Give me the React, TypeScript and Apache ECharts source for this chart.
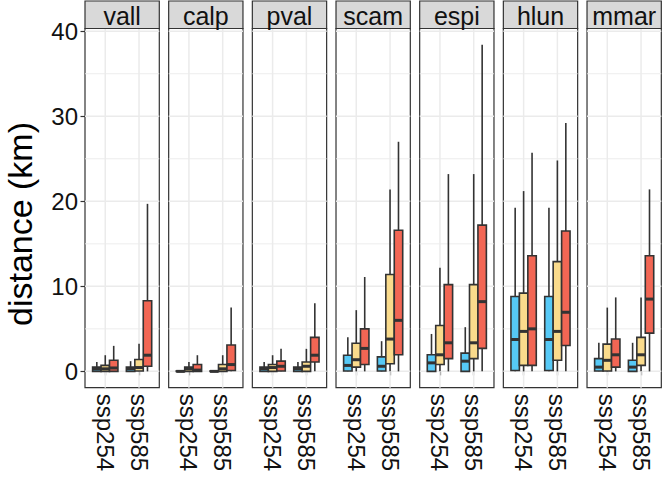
import { useEffect, useRef } from "react";
import * as echarts from "echarts";

// Facets and x categories
const species = ["vall", "calp", "pval", "scam", "espi", "hlun", "mmar"];
const scenarios = ["ssp254", "ssp585"];

// Five-number summaries [min, q1, median, q3, max] in km.
// Order per species: ssp254 (group 1, 2, 3), then ssp585 (group 1, 2, 3).
const vall = [
  [0, 0, 0.28, 0.5, 1.1], [0, 0, 0.3, 0.7, 1.9], [0, 0, 0.4, 1.3, 3.0],
  [0, 0, 0.3, 0.5, 1.2], [0, 0.05, 0.45, 1.4, 3.25], [0, 0.6, 1.9, 8.3, 19.7],
];
const calp = [
  [0, 0, 0, 0.05, 0.1], [0, 0, 0.3, 0.5, 1.1], [0, 0, 0.15, 0.8, 1.9],
  [0, 0, 0, 0.05, 0.1], [0, 0, 0.3, 0.8, 1.9], [0, 0.1, 0.8, 3.1, 7.5],
];
const pval = [
  [0, 0, 0.3, 0.5, 1.1], [0, 0, 0.45, 0.8, 1.9], [0, 0.05, 0.6, 1.2, 2.65],
  [0, 0, 0.3, 0.5, 1.1], [0, 0, 0.6, 1.1, 2.65], [0, 1.1, 1.9, 4.0, 8.0],
];
const scam = [
  [0, 0.05, 0.7, 1.9, 4.0], [0, 0.5, 1.37, 3.3, 7.2], [0, 0.8, 2.7, 5.0, 11.1],
  [0, 0.05, 0.6, 1.7, 3.55], [0, 0.9, 3.8, 11.4, 21.4], [0, 1.95, 6.0, 16.6, 27.0],
];
const espi = [
  [0, 0, 1.0, 1.95, 4.4], [0, 0.8, 1.95, 5.4, 12.2], [0, 1.5, 3.36, 10.2, 23.2],
  [0, 0, 1.2, 2.15, 5.2], [0, 1.5, 3.36, 10.2, 23.2], [0, 2.7, 8.2, 17.2, 38.4],
];
const hlun = [
  [0, 0.1, 3.75, 8.8, 19.25], [0, 0.7, 4.7, 9.2, 21.2], [0, 0.7, 5.0, 13.6, 25.7],
  [0, 0.1, 3.75, 8.8, 19.25], [0, 1.3, 4.7, 12.9, 24.8], [0, 3.05, 6.95, 16.5, 29.2],
];
const mmar = [
  [0, 0.05, 0.5, 1.5, 3.36], [0, 0.05, 1.3, 3.2, 7.5], [0, 0.5, 1.95, 3.8, 8.7],
  [0, 0, 0.5, 1.3, 3.36], [0, 0.7, 1.95, 4.0, 8.7], [0, 4.5, 8.5, 13.6, 21.4],
];
const summaries = [vall, calp, pval, scam, espi, hlun, mmar];

// Axis breaks
const yMajor = [0, 10, 20, 30, 40];
const yMinor = [5, 15, 25, 35];
const xBreaks = [1, 2];

// Styling
const groupFills = ["#56C9F6", "#FADB8C", "#F26654"];
const ink = "#333333";
const font = "'Liberation Sans', Arial, Helvetica, sans-serif";

// Panel layout (px)
const panelLeft = 85;
const panelStep = 83.67;
const panelWidth = 74.3;
const panelTop = 28.5;
const panelHeight = 359.2;
const stripTop = 1;

const Y_MIN = -1.92;
const Y_MAX = 40.32;
const X_MIN = 0.4;
const X_MAX = 2.6;
const DODGE = 0.25;
const BOX_W = 0.25;

export default function App() {
  const ref = useRef<HTMLDivElement>(null);

  useEffect(() => {
    document.body.style.margin = "0";
    if (!ref.current) return;
    const chart = echarts.init(ref.current, undefined, { renderer: "svg" });

    const grids: any[] = [];
    const xAxes: any[] = [];
    const yAxes: any[] = [];
    const series: any[] = [];
    const graphics: any[] = [];

    species.forEach((name, i) => {
      const left = panelLeft + i * panelStep;
      grids.push({
        left,
        top: panelTop,
        width: panelWidth,
        height: panelHeight,
        show: true,
        backgroundColor: "#ffffff",
        borderColor: ink,
        borderWidth: 1.2,
      });
      xAxes.push({
        gridIndex: i,
        type: "value",
        min: X_MIN,
        max: X_MAX,
        axisLine: { show: false },
        splitLine: { show: false },
        axisTick: {
          show: true,
          customValues: xBreaks,
          length: 4,
          lineStyle: { color: ink, width: 1.2 },
        },
        axisLabel: {
          customValues: xBreaks,
          formatter: (v: number) => scenarios[Math.round(v) - 1] ?? "",
          rotate: -90,
          fontSize: 24,
          fontFamily: font,
          color: "#111111",
          margin: 6,
        },
      });
      yAxes.push({
        gridIndex: i,
        type: "value",
        min: Y_MIN,
        max: Y_MAX,
        show: i === 0,
        axisLine: { show: false },
        splitLine: { show: false },
        axisTick: {
          show: true,
          customValues: yMajor,
          length: 4.5,
          lineStyle: { color: ink, width: 1.2 },
        },
        axisLabel: {
          customValues: yMajor,
          fontSize: 24,
          fontFamily: font,
          color: "#111111",
          margin: 7,
        },
      });

      // background grid lines: [kind, value]; 0 major-h, 1 minor-h, 2 vertical
      const gridData = [
        ...yMajor.map((v) => [0, v]),
        ...yMinor.map((v) => [1, v]),
        ...xBreaks.map((v) => [2, v]),
      ];
      series.push({
        type: "custom",
        xAxisIndex: i,
        yAxisIndex: i,
        silent: true,
        z: 1,
        data: gridData,
        encode: { x: 1, y: 1 },
        renderItem: (params: any, api: any) => {
          const kind = api.value(0);
          const v = api.value(1);
          const cs = params.coordSys;
          if (kind === 2) {
            const x = api.coord([v, 0])[0];
            return {
              type: "line",
              shape: { x1: x, y1: cs.y, x2: x, y2: cs.y + cs.height },
              style: { stroke: "#EBEBEB", lineWidth: 1.5 },
            };
          }
          const y = api.coord([1, v])[1];
          return {
            type: "line",
            shape: { x1: cs.x, y1: y, x2: cs.x + cs.width, y2: y },
            style: { stroke: "#EBEBEB", lineWidth: kind === 0 ? 1.5 : 0.9 },
          };
        },
      });

      // boxes: [category, group, min, q1, median, q3, max]
      const boxData = summaries[i].map((s, k) => [
        Math.floor(k / 3) + 1,
        k % 3,
        ...s,
      ]);
      series.push({
        type: "custom",
        xAxisIndex: i,
        yAxisIndex: i,
        silent: true,
        z: 3,
        data: boxData,
        encode: { x: 0, y: [2, 3, 4, 5, 6] },
        renderItem: (_params: any, api: any) => {
          const cat = api.value(0);
          const grp = api.value(1);
          const x = cat + (grp - 1) * DODGE;
          const cx = api.coord([x, 0])[0];
          const yOf = (v: number) => api.coord([x, v])[1];
          const yMinP = yOf(api.value(2));
          const yQ1 = yOf(api.value(3));
          const yMed = yOf(api.value(4));
          const yQ3 = yOf(api.value(5));
          const yMaxP = yOf(api.value(6));
          const half = api.size([BOX_W, 0])[0] / 2;
          const lineStyle = { stroke: ink, lineWidth: 1.6 };
          return {
            type: "group",
            children: [
              {
                type: "line",
                shape: { x1: cx, y1: yQ3, x2: cx, y2: yMaxP },
                style: lineStyle,
              },
              {
                type: "line",
                shape: { x1: cx, y1: yQ1, x2: cx, y2: yMinP },
                style: lineStyle,
              },
              {
                type: "rect",
                shape: { x: cx - half, y: yQ3, width: half * 2, height: Math.max(yQ1 - yQ3, 0.5) },
                style: { fill: groupFills[grp], stroke: ink, lineWidth: 1.6 },
              },
              {
                type: "line",
                shape: { x1: cx - half, y1: yMed, x2: cx + half, y2: yMed },
                style: { stroke: ink, lineWidth: 3 },
              },
            ],
          };
        },
      });

      // facet strip
      graphics.push({
        type: "rect",
        shape: { x: left, y: stripTop, width: panelWidth, height: panelTop - stripTop },
        style: { fill: "#D9D9D9", stroke: ink, lineWidth: 1.2 },
        z: 10,
      });
      graphics.push({
        type: "text",
        x: left + panelWidth / 2,
        y: (stripTop + panelTop) / 2 + 1,
        style: {
          text: name,
          fontSize: 25,
          fontFamily: font,
          fill: "#111111",
          textAlign: "center",
          textVerticalAlign: "middle",
        },
        z: 11,
      });
    });

    graphics.push({
      type: "text",
      x: 20,
      y: 224,
      rotation: Math.PI / 2,
      style: {
        text: "distance (km)",
        fontSize: 34,
        fontFamily: font,
        fill: "#000000",
        textAlign: "center",
        textVerticalAlign: "middle",
      },
    });

    chart.setOption({
      animation: false,
      backgroundColor: "#ffffff",
      grid: grids,
      xAxis: xAxes,
      yAxis: yAxes,
      series,
      graphic: graphics,
    });

    return () => chart.dispose();
  }, []);

  return <div ref={ref} style={{ width: 664, height: 478 }} />;
}
